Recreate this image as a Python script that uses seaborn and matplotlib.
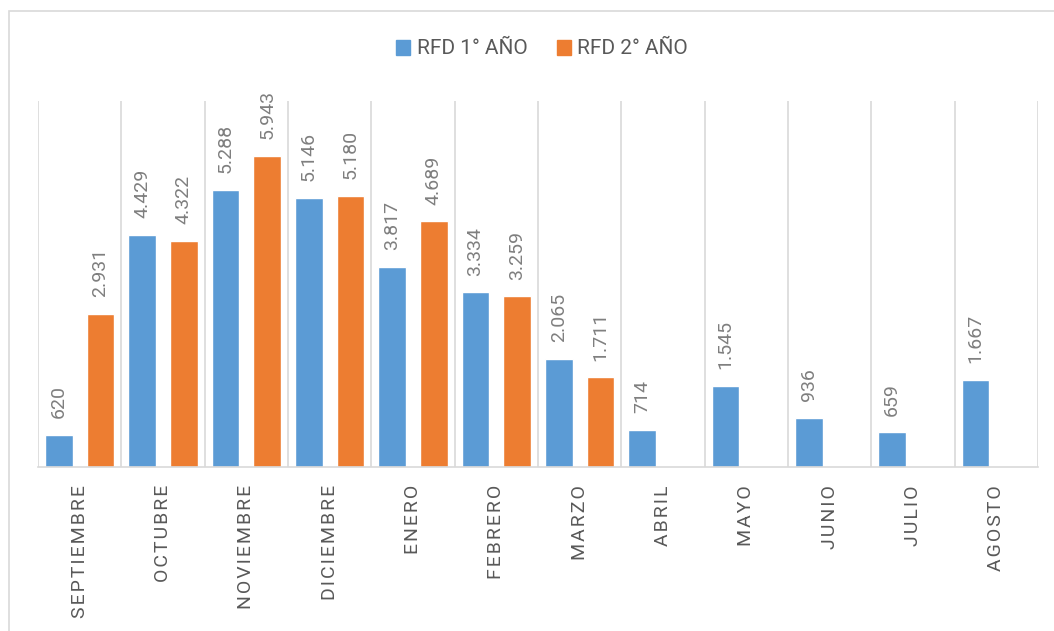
import numpy as np
import pandas as pd
import matplotlib
matplotlib.use("Agg")
import matplotlib.pyplot as plt
from matplotlib.patches import Rectangle
import seaborn as sns

# Data
months = ["SEPTIEMBRE", "OCTUBRE", "NOVIEMBRE", "DICIEMBRE", "ENERO", "FEBRERO",
          "MARZO", "ABRIL", "MAYO", "JUNIO", "JULIO", "AGOSTO"]
series_names = ["RFD 1° AÑO", "RFD 2° AÑO"]
rfd_1 = [620, 4429, 5288, 5146, 3817, 3334, 2065, 714, 1545, 936, 659, 1667]
rfd_2 = [2931, 4322, 5943, 5180, 4689, 3259, 1711, np.nan, np.nan, np.nan, np.nan, np.nan]
colors = ["#5B9BD5", "#ED7D31"]

df = pd.DataFrame({
    "mes": months * 2,
    "serie": [series_names[0]] * len(months) + [series_names[1]] * len(months),
    "valor": rfd_1 + rfd_2,
}).dropna()

sns.set_style("white")
plt.rcParams["font.family"] = ["Roboto", "DejaVu Sans"]

W, H = 1054, 631
fig = plt.figure(figsize=(W / 100, H / 100), dpi=100)
ax = fig.add_axes([38 / W, 1 - 467 / H, 1000 / W, 366.5 / H])

sns.barplot(data=df, x="mes", y="valor", hue="serie", order=months,
            hue_order=series_names, palette=colors, width=1.0, gap=1 / 3,
            errorbar=None, ax=ax, legend=False, saturation=1)

# value labels
for cont in ax.containers:
    vals = cont.datavalues
    labels = [f"{v:,.0f}".replace(",", ".") for v in vals]
    ax.bar_label(cont, labels=labels, rotation=90, padding=12,
                 color="#7F7F7F", fontsize=14)

ax.set_xlim(-0.5, len(months) - 0.5)
ax.set_ylim(0, 7000)
ax.set_yticks([])
ax.set_xlabel("")
ax.set_ylabel("")

# spaced month labels
ax.set_xticks(range(len(months)))
ax.set_xticklabels(["\u200a".join(m) for m in months], rotation=90,
                   color="#595959", fontsize=14, va="top", ha="center")
ax.tick_params(axis="x", length=0, pad=13)

# vertical separators between categories
ax.set_xticks(np.arange(-0.5, len(months)), minor=True)
ax.tick_params(axis="x", which="minor", length=0)
ax.grid(True, which="minor", axis="x", color="#D9D9D9", linewidth=1.2)
ax.grid(False, which="major")
for s in ["left", "top", "right"]:
    ax.spines[s].set_visible(False)
ax.spines["bottom"].set_color("#D9D9D9")
ax.spines["bottom"].set_linewidth(1.2)

# legend
handles = [Rectangle((0, 0), 1, 1, color=c) for c in colors]
fig.legend(handles, series_names, loc="center", ncol=2,
           bbox_to_anchor=(542 / W, 1 - 49 / H), frameon=False,
           fontsize=15, labelcolor="#595959", handlelength=0.7,
           handleheight=0.7, handletextpad=0.3, columnspacing=1.4)

# chart frame (cut off on right and bottom)
fig.patches.append(Rectangle((8.5 / W, -0.2), 1.5, 1.2 - 10.5 / H,
                             transform=fig.transFigure, fill=False,
                             edgecolor="#D9D9D9", linewidth=1.2))

fig.savefig("out.png", dpi=100)
